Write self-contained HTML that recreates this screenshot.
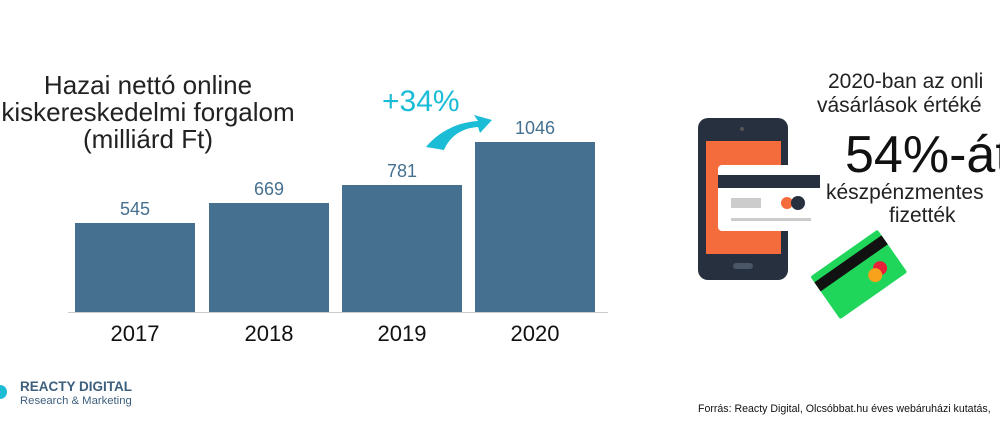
<!DOCTYPE html>
<html><head><meta charset="utf-8"><style>
body{margin:0;width:1000px;height:430px;background:#fff;overflow:hidden;position:relative;font-family:"Liberation Sans",sans-serif}
.t{position:absolute;white-space:nowrap}
.bar{position:absolute;background:#45708f}
</style></head><body>
<div class="t" style="left:-2px;width:300px;top:72px;text-align:center;font-size:26px;line-height:27px;color:#222">Hazai nettó online<br>kiskereskedelmi forgalom<br>(milliárd Ft)</div>
<div class="bar" style="left:75px;top:223px;width:120px;height:89px"></div>
<div class="bar" style="left:209px;top:203px;width:120px;height:109px"></div>
<div class="bar" style="left:342px;top:185px;width:120px;height:127px"></div>
<div class="bar" style="left:475px;top:142px;width:120px;height:170px"></div>
<div style="position:absolute;left:68px;top:312px;width:540px;height:1px;background:#ccc"></div>
<div class="t" style="left:75px;width:120px;text-align:center;top:199px;font-size:18px;color:#45708f">545</div>
<div class="t" style="left:209px;width:120px;text-align:center;top:179px;font-size:18px;color:#45708f">669</div>
<div class="t" style="left:342px;width:120px;text-align:center;top:161px;font-size:18px;color:#45708f">781</div>
<div class="t" style="left:475px;width:120px;text-align:center;top:118px;font-size:18px;color:#45708f">1046</div>
<div class="t" style="left:75px;width:120px;text-align:center;top:321px;font-size:22px;color:#111">2017</div>
<div class="t" style="left:209px;width:120px;text-align:center;top:321px;font-size:22px;color:#111">2018</div>
<div class="t" style="left:342px;width:120px;text-align:center;top:321px;font-size:22px;color:#111">2019</div>
<div class="t" style="left:475px;width:120px;text-align:center;top:321px;font-size:22px;color:#111">2020</div>
<div class="t" style="left:382px;top:85px;font-size:30px;color:#1bbcd6">+34%</div>
<svg style="position:absolute;left:0;top:0" width="1000" height="430">
<path d="M426,147 C440,130 460,122 478,121 L474,115 L492,120 L480,133 L478,127 C462,128 450,136 444,150 Z" fill="#1bbcd6"/>
<rect x="698" y="118" width="90" height="162" rx="10" fill="#27303f"/>
<rect x="706" y="141" width="75" height="113" fill="#f56c3c"/>
<circle cx="742" cy="129" r="2" fill="#555"/>
<rect x="733" y="263" width="20" height="6" rx="3" fill="#4a5566"/>
<rect x="718" y="165" width="102" height="66" rx="4" fill="#fff"/>
<rect x="718" y="175" width="102" height="13" fill="#27303f"/>
<rect x="731" y="198" width="30" height="10" fill="#ccc"/>
<circle cx="787" cy="203" r="6" fill="#f56c3c"/><circle cx="798" cy="203" r="7" fill="#27303f"/>
<rect x="731" y="218" width="80" height="3" fill="#ccc"/>
<g transform="rotate(-35 858 275)"><rect x="818" y="249" width="82" height="52" rx="2" fill="#1fd65a"/>
<rect x="818" y="256" width="82" height="11" fill="#111"/>
<circle cx="880" cy="282" r="7" fill="#e8203a"/><circle cx="872" cy="285" r="7" fill="#f7a21a"/></g>
<circle cx="0" cy="392" r="7" fill="#1bbcd6"/>
</svg>
<div class="t" style="left:828px;top:70px;font-size:21px;color:#222">2020-ban az onli</div>
<div class="t" style="left:817px;top:94px;font-size:21px;color:#222">vásárlások értéké</div>
<div class="t" style="left:845px;top:125px;font-size:52px;color:#111">54%-át</div>
<div class="t" style="left:826px;top:181px;font-size:21px;color:#222">készpénzmentes</div>
<div class="t" style="left:889px;top:204px;font-size:21px;color:#222">fizették</div>
<div class="t" style="left:20px;top:379px;font-size:13.5px;font-weight:bold;color:#3d5f7e">REACTY DIGITAL</div>
<div class="t" style="left:20px;top:395px;font-size:11.3px;color:#3d5f7e">Research &amp; Marketing</div>
<div class="t" style="left:698px;top:403px;font-size:10.6px;color:#111">Forrás: Reacty Digital, Olcsóbbat.hu éves webáruházi kutatás,</div>
</body></html>
